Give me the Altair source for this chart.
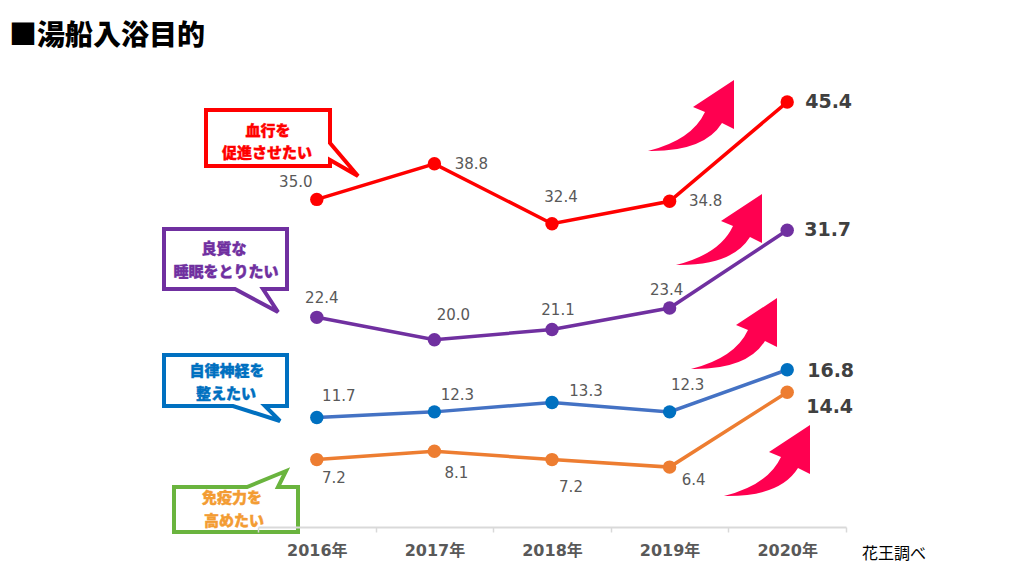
import altair as alt
import pandas as pd

# ---------------- data ----------------
years = ["2016年", "2017年", "2018年", "2019年", "2020年"]
series = ["血行を促進させたい", "良質な睡眠をとりたい", "自律神経を整えたい", "免疫力を高めたい"]
blood_flow = [35.0, 38.8, 32.4, 34.8, 45.4]
good_sleep = [22.4, 20.0, 21.1, 23.4, 31.7]
autonomic = [11.7, 12.3, 13.3, 12.3, 16.8]
immunity = [7.2, 8.1, 7.2, 6.4, 14.4]
callout_lines = [["血行を", "促進させたい"], ["良質な", "睡眠をとりたい"],
                 ["自律神経を", "整えたい"], ["免疫力を", "高めたい"]]
title_text = "■湯船入浴目的"
source_text = "花王調べ"

values = [blood_flow, good_sleep, autonomic, immunity]
rows = []
for s, vals in zip(series, values):
    for i, (yr, v) in enumerate(zip(years, vals)):
        rows.append({"series": s, "year": yr, "value": v, "idx": i})
df = pd.DataFrame(rows)

# ---------------- style ----------------
line_colors = ["#FF0000", "#7030A0", "#4472C4", "#ED7D31"]
point_colors = ["#FF0000", "#7030A0", "#0070C0", "#ED7D31"]
callout_border = ["#FF0000", "#7030A0", "#0070C0", "#6AB43E"]
callout_text_col = ["#FF0000", "#7030A0", "#0070C0", "#F39C33"]
arrow_color = "#FF0050"
OX, OY = 258, 59          # plot origin on page
W, H = 588, 468

def rx(x):
    return x - OX

def ry(y):
    return y - OY

# label offsets (dx, dy) per series per point; last one is left-aligned bold
label_offsets = [
    [(-21, -17), (37, 0), (9, -27), (36, 0), (18, 0)],
    [(5, -19), (19, -25), (6, -20), (-3, -18), (17, 0)],
    [(22, -21), (23, -17), (34, -12), (18, -27), (20, 1)],
    [(17, 18), (22, 22), (19, 27), (24, 13), (19, 15)],
]

x_enc = alt.X("year:N", sort=years,
              scale=alt.Scale(type="band", domain=years, paddingInner=0, paddingOuter=0),
              axis=alt.Axis(title=None, labelAngle=0,
                            labelFont="DejaVu Sans, Noto Sans CJK JP",
                            labelFontWeight="bold", labelFontSize=16,
                            labelColor="#595959", labelPadding=10,
                            tickBand="extent", tickColor="#D9D9D9", tickSize=5,
                            tickWidth=1.5, domainColor="#D9D9D9", domainWidth=2,
                            grid=False, zindex=1))
y_enc = alt.Y("value:Q", scale=alt.Scale(domain=[0, 50], nice=False, zero=True), axis=None)

base = alt.Chart(df)
lines = base.mark_line(strokeWidth=3.5).encode(
    x=x_enc, y=y_enc,
    color=alt.Color("series:N", scale=alt.Scale(domain=series, range=line_colors), legend=None),
)
points = base.mark_circle(size=180, opacity=1).encode(
    x=x_enc, y=y_enc,
    fill=alt.Fill("series:N", scale=alt.Scale(domain=series, range=point_colors), legend=None),
)

layers = [lines, points]

# value labels
for si, s in enumerate(series):
    for i in range(len(years)):
        dx, dy = label_offsets[si][i]
        last = i == len(years) - 1
        t = base.transform_filter(
            (alt.datum.series == s) & (alt.datum.idx == i)
        ).mark_text(
            dx=dx, dy=dy,
            align="left" if last else "center", baseline="middle",
            font="DejaVu Sans",
            fontSize=19 if last else 15,
            fontWeight="bold" if last else "normal",
            color="#404040" if last else "#595959",
        ).encode(x=x_enc, y=y_enc, text=alt.Text("value:Q", format=".1f"))
        layers.append(t)

one = pd.DataFrame({"a": [0]})

def shape_from_points(pts):
    xs = [p[0] for p in pts]
    ys = [p[1] for p in pts]
    cx = (min(xs) + max(xs)) / 2
    cy = (min(ys) + max(ys)) / 2
    h = max(max(xs) - min(xs), max(ys) - min(ys)) / 2
    path = "M" + " L".join(f"{(x - cx) / h:.4f},{(y - cy) / h:.4f}" for x, y in pts) + " Z"
    return path, cx, cy, (2 * h) ** 2

# callout outlines (stroke centre lines, page pixels)
callout_shapes = [
    [(206, 110), (330, 110), (330, 143), (358, 176), (330, 160), (330, 166), (206, 166)],
    [(164, 229), (287, 229), (287, 289), (263, 289), (278, 312), (235, 289), (164, 289)],
    [(164, 355), (287, 355), (287, 406), (265, 406), (280, 421), (233, 406), (164, 406)],
    [(174, 487), (247, 487), (286, 471), (278, 487), (298, 487), (298, 532), (174, 532)],
]
callout_text_pos = [
    [(268, 131), (267, 153)],
    [(224, 249), (226, 272)],
    [(227, 371), (226, 394)],
    [(232, 498), (234, 521)],
]

for k, pts in enumerate(callout_shapes):
    path, cx, cy, size = shape_from_points(pts)
    layers.append(
        alt.Chart(one).mark_point(
            shape=path, size=size, filled=True, fill="white",
            stroke=callout_border[k], strokeWidth=4, opacity=1, strokeJoin="miter",
        ).encode(x=alt.value(rx(cx)), y=alt.value(ry(cy)))
    )
    for line_txt, (tx, ty) in zip(callout_lines[k], callout_text_pos[k]):
        layers.append(
            alt.Chart(pd.DataFrame({"t": [line_txt]})).mark_text(
                font="Noto Sans CJK JP", fontWeight=900, fontSize=15,
                color=callout_text_col[k], align="center", baseline="middle",
                stroke=callout_text_col[k], strokeWidth=0.4,
            ).encode(x=alt.value(rx(tx)), y=alt.value(ry(ty)), text="t:N")
        )

# curved arrows (relative to tip)
arrow_cmds = [("M", [(0, 0)]), ("L", [(0, 49)]), ("L", [(-12, 43)]),
              ("Q", [(-30, 72), (-86, 71)]), ("Q", [(-42, 60), (-29, 32)]),
              ("L", [(-41, 27)])]
acx, acy, ah = -43, 36, 43
apath = ""
for cmd, pts in arrow_cmds:
    apath += cmd + " ".join(f"{(x - acx) / ah:.4f},{(y - acy) / ah:.4f}" for x, y in pts) + " "
apath += "Z"
arrow_tips = [(734, 80), (762, 194), (777, 298), (810, 425)]
for tx, ty in arrow_tips:
    layers.append(
        alt.Chart(one).mark_point(
            shape=apath, size=(2 * ah) ** 2, filled=True, fill=arrow_color,
            strokeWidth=0, opacity=1,
        ).encode(x=alt.value(rx(tx + acx)), y=alt.value(ry(ty + acy)))
    )

# title and source
layers.append(
    alt.Chart(pd.DataFrame({"t": [title_text]})).mark_text(
        font="Noto Sans CJK JP", fontWeight=900, fontSize=28, color="#000000",
        align="left", baseline="middle",
    ).encode(x=alt.value(rx(9)), y=alt.value(ry(37)), text="t:N")
)
layers.append(
    alt.Chart(pd.DataFrame({"t": [source_text]})).mark_text(
        font="Noto Sans CJK JP", fontSize=16, color="#000000",
        align="left", baseline="middle",
    ).encode(x=alt.value(rx(862)), y=alt.value(ry(554)), text="t:N")
)

chart = alt.layer(*layers).properties(
    width=W, height=H,
    background="white",
    autosize=alt.AutoSizeParams(type="none"),
    padding={"left": OX - 8, "top": OY - 8, "right": 160, "bottom": 45},
).configure_view(stroke=None, strokeWidth=0)

chart.save("out.html", embed_options={"renderer": "svg", "actions": False})
